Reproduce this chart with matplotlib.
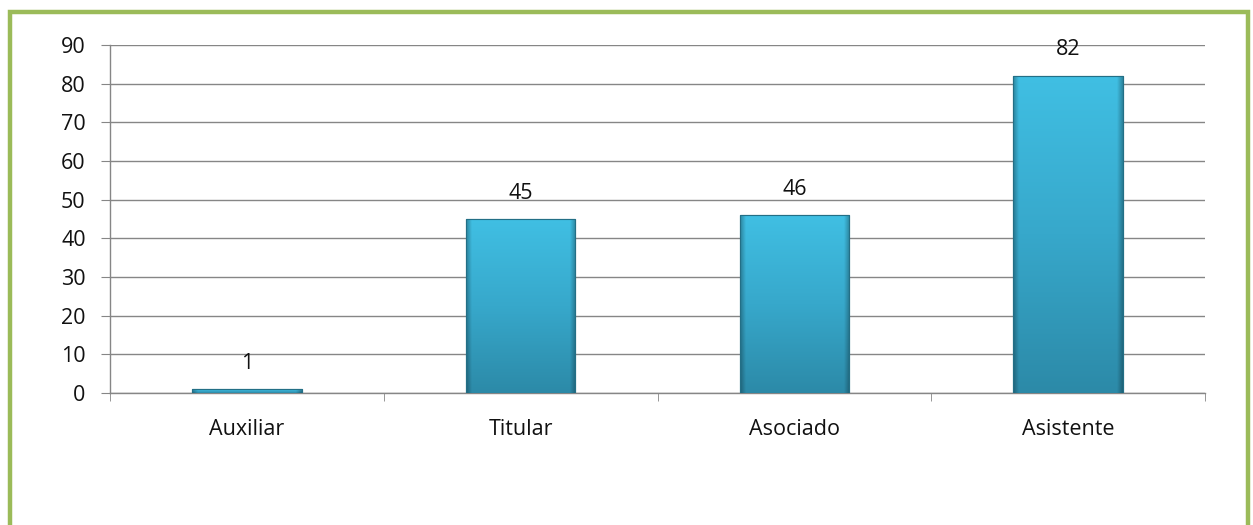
import numpy as np
import matplotlib
matplotlib.use("Agg")
import matplotlib.pyplot as plt
from matplotlib.patches import Rectangle
from matplotlib.colors import LinearSegmentedColormap

# ---------------- Data ----------------
categories = ["Auxiliar", "Titular", "Asociado", "Asistente"]
values = [1, 45, 46, 82]
y_ticks = [0, 10, 20, 30, 40, 50, 60, 70, 80, 90]

plt.rcParams["font.family"] = ["Open Sans", "DejaVu Sans"]
FS = 15.5

fig = plt.figure(figsize=(12.53, 5.25), dpi=100)
ax = fig.add_axes([110 / 1253, 1 - 393 / 525, 1095 / 1253, 348 / 525])

# green frame around the chart
fig.patches.append(Rectangle((10 / 1253, -0.1), 1238 / 1253, 1.1 - 12 / 525,
                             transform=fig.transFigure, fill=False,
                             edgecolor="#9BBB59", linewidth=3.2, zorder=10))

x = np.arange(len(categories))
bars = ax.bar(x, values, width=0.4, color="#3BB5DA", edgecolor="#236F86",
              linewidth=0.8, zorder=3)

# shaded fill: vertical gradient plus darker sides (bevel look)
cmap = LinearSegmentedColormap.from_list("bar", ["#2C8AA8", "#37A8CB", "#40BFE3"])
ny, nx = 200, 100
vert = cmap(np.linspace(0, 1, ny))[:, :3]
u = np.linspace(0, 1, nx)
side = 1 - 0.28 * np.clip(1 - np.minimum(u, 1 - u) / 0.05, 0, 1)
img = vert[:, None, :] * side[None, :, None]
for b in bars:
    bx, by = b.get_x(), b.get_y()
    bw, bh = b.get_width(), b.get_height()
    im = ax.imshow(img, extent=[bx, bx + bw, by, by + bh], origin="lower",
                   aspect="auto", interpolation="bilinear", zorder=3.5)
    im.set_clip_path(b)
    ax.add_patch(Rectangle((bx, by), bw, bh, fill=False, edgecolor="#236F86",
                           linewidth=0.8, zorder=4))
    ax.text(bx + bw / 2, by + bh + 4.0, f"{int(bh)}", ha="center", va="bottom",
            fontsize=FS, color="#111111", zorder=5)

ax.set_xlim(-0.5, len(categories) - 0.5)
ax.set_ylim(0, 90)
ax.set_yticks(y_ticks)
ax.set_xticks(x)
ax.set_xticklabels(categories)
ax.set_xticks(np.arange(-0.5, len(categories)), minor=True)

ax.yaxis.grid(True, color="#868686", linewidth=1, zorder=0)
ax.set_axisbelow(True)
for s in ["top", "right"]:
    ax.spines[s].set_visible(False)
for s in ["left", "bottom"]:
    ax.spines[s].set_color("#868686")
    ax.spines[s].set_linewidth(1)

ax.tick_params(axis="y", length=6.5, color="#868686", labelsize=FS, pad=11, labelcolor="#111111")
ax.tick_params(axis="x", which="major", length=0, labelsize=FS, pad=19, labelcolor="#111111")
ax.tick_params(axis="x", which="minor", length=6, color="#868686", direction="out")

fig.savefig("out.png", dpi=100, facecolor="white")
